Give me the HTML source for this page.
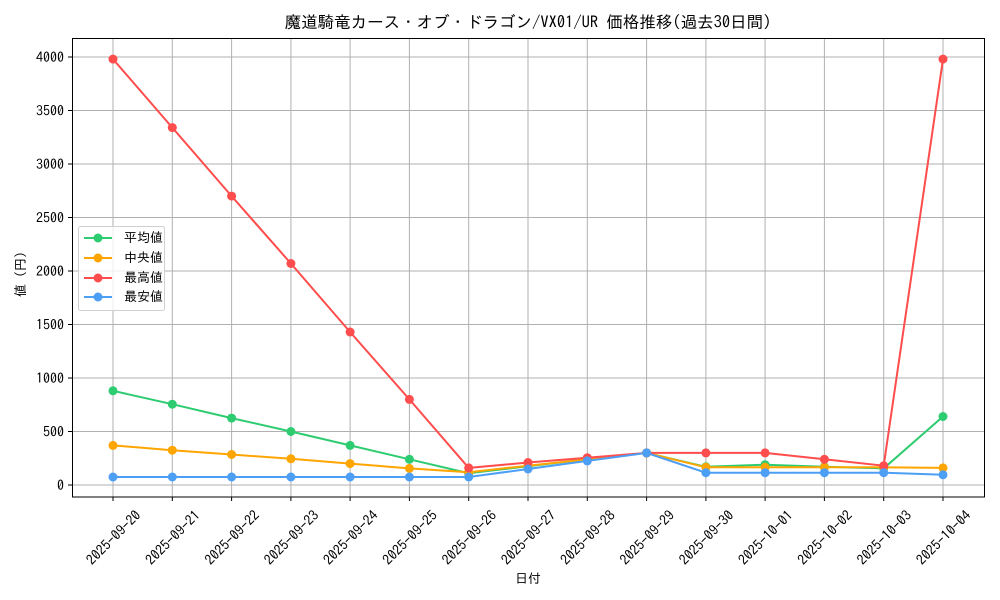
<!DOCTYPE html>
<html><head><meta charset="utf-8"><style>
body{margin:0;background:#fff}
svg{display:block}
text{font-family:"IPAGothic","Liberation Sans",sans-serif;fill:#000}
</style></head><body>
<svg width="1000" height="600" xmlns="http://www.w3.org/2000/svg">
<rect width="1000" height="600" fill="#fff"/>
<g stroke="#b0b0b0" stroke-width="1">
<line x1="113" y1="38" x2="113" y2="497"/><line x1="172.3" y1="38" x2="172.3" y2="497"/><line x1="231.6" y1="38" x2="231.6" y2="497"/><line x1="290.9" y1="38" x2="290.9" y2="497"/><line x1="350.1" y1="38" x2="350.1" y2="497"/><line x1="409.4" y1="38" x2="409.4" y2="497"/><line x1="468.7" y1="38" x2="468.7" y2="497"/><line x1="528" y1="38" x2="528" y2="497"/><line x1="587.3" y1="38" x2="587.3" y2="497"/><line x1="646.6" y1="38" x2="646.6" y2="497"/><line x1="705.9" y1="38" x2="705.9" y2="497"/><line x1="765.1" y1="38" x2="765.1" y2="497"/><line x1="824.4" y1="38" x2="824.4" y2="497"/><line x1="883.7" y1="38" x2="883.7" y2="497"/><line x1="943" y1="38" x2="943" y2="497"/>
<line x1="72" y1="485" x2="985" y2="485"/><line x1="72" y1="431.5" x2="985" y2="431.5"/><line x1="72" y1="378" x2="985" y2="378"/><line x1="72" y1="324.5" x2="985" y2="324.5"/><line x1="72" y1="271" x2="985" y2="271"/><line x1="72" y1="217.5" x2="985" y2="217.5"/><line x1="72" y1="164" x2="985" y2="164"/><line x1="72" y1="110.5" x2="985" y2="110.5"/><line x1="72" y1="57" x2="985" y2="57"/>
</g>
<g stroke="#000" stroke-width="1">
<line x1="68" y1="485" x2="72" y2="485"/><line x1="68" y1="431.5" x2="72" y2="431.5"/><line x1="68" y1="378" x2="72" y2="378"/><line x1="68" y1="324.5" x2="72" y2="324.5"/><line x1="68" y1="271" x2="72" y2="271"/><line x1="68" y1="217.5" x2="72" y2="217.5"/><line x1="68" y1="164" x2="72" y2="164"/><line x1="68" y1="110.5" x2="72" y2="110.5"/><line x1="68" y1="57" x2="72" y2="57"/>
<line x1="113" y1="497" x2="113" y2="501"/><line x1="172.3" y1="497" x2="172.3" y2="501"/><line x1="231.6" y1="497" x2="231.6" y2="501"/><line x1="290.9" y1="497" x2="290.9" y2="501"/><line x1="350.1" y1="497" x2="350.1" y2="501"/><line x1="409.4" y1="497" x2="409.4" y2="501"/><line x1="468.7" y1="497" x2="468.7" y2="501"/><line x1="528" y1="497" x2="528" y2="501"/><line x1="587.3" y1="497" x2="587.3" y2="501"/><line x1="646.6" y1="497" x2="646.6" y2="501"/><line x1="705.9" y1="497" x2="705.9" y2="501"/><line x1="765.1" y1="497" x2="765.1" y2="501"/><line x1="824.4" y1="497" x2="824.4" y2="501"/><line x1="883.7" y1="497" x2="883.7" y2="501"/><line x1="943" y1="497" x2="943" y2="501"/>
</g>
<g font-size="14" text-anchor="end">
<text x="64" y="490">0</text><text x="64" y="436.5">500</text><text x="64" y="383">1000</text><text x="64" y="329.5">1500</text><text x="64" y="276">2000</text><text x="64" y="222.5">2500</text><text x="64" y="169">3000</text><text x="64" y="115.5">3500</text><text x="64" y="62">4000</text>
</g>
<g font-size="14" text-anchor="middle">
<text transform="translate(117,541) rotate(-45)">2025-09-20</text>
<text transform="translate(176.3,541) rotate(-45)">2025-09-21</text>
<text transform="translate(235.6,541) rotate(-45)">2025-09-22</text>
<text transform="translate(294.9,541) rotate(-45)">2025-09-23</text>
<text transform="translate(354.1,541) rotate(-45)">2025-09-24</text>
<text transform="translate(413.4,541) rotate(-45)">2025-09-25</text>
<text transform="translate(472.7,541) rotate(-45)">2025-09-26</text>
<text transform="translate(532,541) rotate(-45)">2025-09-27</text>
<text transform="translate(591.3,541) rotate(-45)">2025-09-28</text>
<text transform="translate(650.6,541) rotate(-45)">2025-09-29</text>
<text transform="translate(709.9,541) rotate(-45)">2025-09-30</text>
<text transform="translate(769.1,541) rotate(-45)">2025-10-01</text>
<text transform="translate(828.4,541) rotate(-45)">2025-10-02</text>
<text transform="translate(887.7,541) rotate(-45)">2025-10-03</text>
<text transform="translate(947,541) rotate(-45)">2025-10-04</text>
</g>
<text x="528" y="583" font-size="13" text-anchor="middle">日付</text>
<text transform="translate(25,271) rotate(-90)" font-size="13" text-anchor="middle">値（円）</text>
<text x="528" y="28" font-size="16.5" text-anchor="middle">魔道騎竜カース・オブ・ドラゴン/VX01/UR 価格推移(過去30日間)</text>
<g fill="none" stroke-width="2">
<polyline stroke="#2ecc71" points="113,390.8 172.3,404.2 231.6,418.1 290.9,431.5 350.1,445.4 409.4,459.3 468.7,473.2 528,466.3 587.3,459.3 646.6,452.9 705.9,466.8 765.1,464.7 824.4,466.8 883.7,468.4 943,416.5"/>
<polyline stroke="#ffa500" points="113,445.4 172.3,450.2 231.6,454.5 290.9,458.8 350.1,463.6 409.4,468.4 468.7,472.2 528,465.7 587.3,459.3 646.6,452.9 705.9,467.3 765.1,467.3 824.4,467.3 883.7,467.3 943,467.9"/>
<polyline stroke="#ff4c4c" points="113,59.1 172.3,127.6 231.6,196.1 290.9,263.5 350.1,332 409.4,399.4 468.7,467.9 528,462.5 587.3,457.7 646.6,452.9 705.9,452.9 765.1,452.9 824.4,459.3 883.7,465.7 943,59.1"/>
<polyline stroke="#4d9ff5" points="113,477 172.3,477 231.6,477 290.9,477 350.1,477 409.4,477 468.7,477 528,469 587.3,460.9 646.6,452.9 705.9,472.7 765.1,472.7 824.4,472.7 883.7,472.7 943,474.8"/>
</g>
<g fill="#2ecc71"><circle cx="113" cy="390.8" r="4.5"/><circle cx="172.3" cy="404.2" r="4.5"/><circle cx="231.6" cy="418.1" r="4.5"/><circle cx="290.9" cy="431.5" r="4.5"/><circle cx="350.1" cy="445.4" r="4.5"/><circle cx="409.4" cy="459.3" r="4.5"/><circle cx="468.7" cy="473.2" r="4.5"/><circle cx="528" cy="466.3" r="4.5"/><circle cx="587.3" cy="459.3" r="4.5"/><circle cx="646.6" cy="452.9" r="4.5"/><circle cx="705.9" cy="466.8" r="4.5"/><circle cx="765.1" cy="464.7" r="4.5"/><circle cx="824.4" cy="466.8" r="4.5"/><circle cx="883.7" cy="468.4" r="4.5"/><circle cx="943" cy="416.5" r="4.5"/></g>
<g fill="#ffa500"><circle cx="113" cy="445.4" r="4.5"/><circle cx="172.3" cy="450.2" r="4.5"/><circle cx="231.6" cy="454.5" r="4.5"/><circle cx="290.9" cy="458.8" r="4.5"/><circle cx="350.1" cy="463.6" r="4.5"/><circle cx="409.4" cy="468.4" r="4.5"/><circle cx="468.7" cy="472.2" r="4.5"/><circle cx="528" cy="465.7" r="4.5"/><circle cx="587.3" cy="459.3" r="4.5"/><circle cx="646.6" cy="452.9" r="4.5"/><circle cx="705.9" cy="467.3" r="4.5"/><circle cx="765.1" cy="467.3" r="4.5"/><circle cx="824.4" cy="467.3" r="4.5"/><circle cx="883.7" cy="467.3" r="4.5"/><circle cx="943" cy="467.9" r="4.5"/></g>
<g fill="#ff4c4c"><circle cx="113" cy="59.1" r="4.5"/><circle cx="172.3" cy="127.6" r="4.5"/><circle cx="231.6" cy="196.1" r="4.5"/><circle cx="290.9" cy="263.5" r="4.5"/><circle cx="350.1" cy="332" r="4.5"/><circle cx="409.4" cy="399.4" r="4.5"/><circle cx="468.7" cy="467.9" r="4.5"/><circle cx="528" cy="462.5" r="4.5"/><circle cx="587.3" cy="457.7" r="4.5"/><circle cx="646.6" cy="452.9" r="4.5"/><circle cx="705.9" cy="452.9" r="4.5"/><circle cx="765.1" cy="452.9" r="4.5"/><circle cx="824.4" cy="459.3" r="4.5"/><circle cx="883.7" cy="465.7" r="4.5"/><circle cx="943" cy="59.1" r="4.5"/></g>
<g fill="#4d9ff5"><circle cx="113" cy="477" r="4.5"/><circle cx="172.3" cy="477" r="4.5"/><circle cx="231.6" cy="477" r="4.5"/><circle cx="290.9" cy="477" r="4.5"/><circle cx="350.1" cy="477" r="4.5"/><circle cx="409.4" cy="477" r="4.5"/><circle cx="468.7" cy="477" r="4.5"/><circle cx="528" cy="469" r="4.5"/><circle cx="587.3" cy="460.9" r="4.5"/><circle cx="646.6" cy="452.9" r="4.5"/><circle cx="705.9" cy="472.7" r="4.5"/><circle cx="765.1" cy="472.7" r="4.5"/><circle cx="824.4" cy="472.7" r="4.5"/><circle cx="883.7" cy="472.7" r="4.5"/><circle cx="943" cy="474.8" r="4.5"/></g>
<rect x="72.5" y="38.5" width="912" height="458.5" fill="none" stroke="#000" stroke-width="1"/>
<rect x="78.5" y="226.5" width="86" height="84" rx="2" fill="#fff" fill-opacity="0.8" stroke="#d0d0d0"/>
<g stroke-width="2">
<line x1="84" y1="238" x2="112" y2="238" stroke="#2ecc71"/><circle cx="98" cy="238" r="4.5" fill="#2ecc71"/>
<line x1="84" y1="258" x2="112" y2="258" stroke="#ffa500"/><circle cx="98" cy="258" r="4.5" fill="#ffa500"/>
<line x1="84" y1="278" x2="112" y2="278" stroke="#ff4c4c"/><circle cx="98" cy="278" r="4.5" fill="#ff4c4c"/>
<line x1="84" y1="297" x2="112" y2="297" stroke="#4d9ff5"/><circle cx="98" cy="297" r="4.5" fill="#4d9ff5"/>
</g>
<g font-size="13">
<text x="124" y="242">平均値</text><text x="124" y="262">中央値</text><text x="124" y="282">最高値</text><text x="124" y="301">最安値</text>
</g>
</svg>
</body></html>
